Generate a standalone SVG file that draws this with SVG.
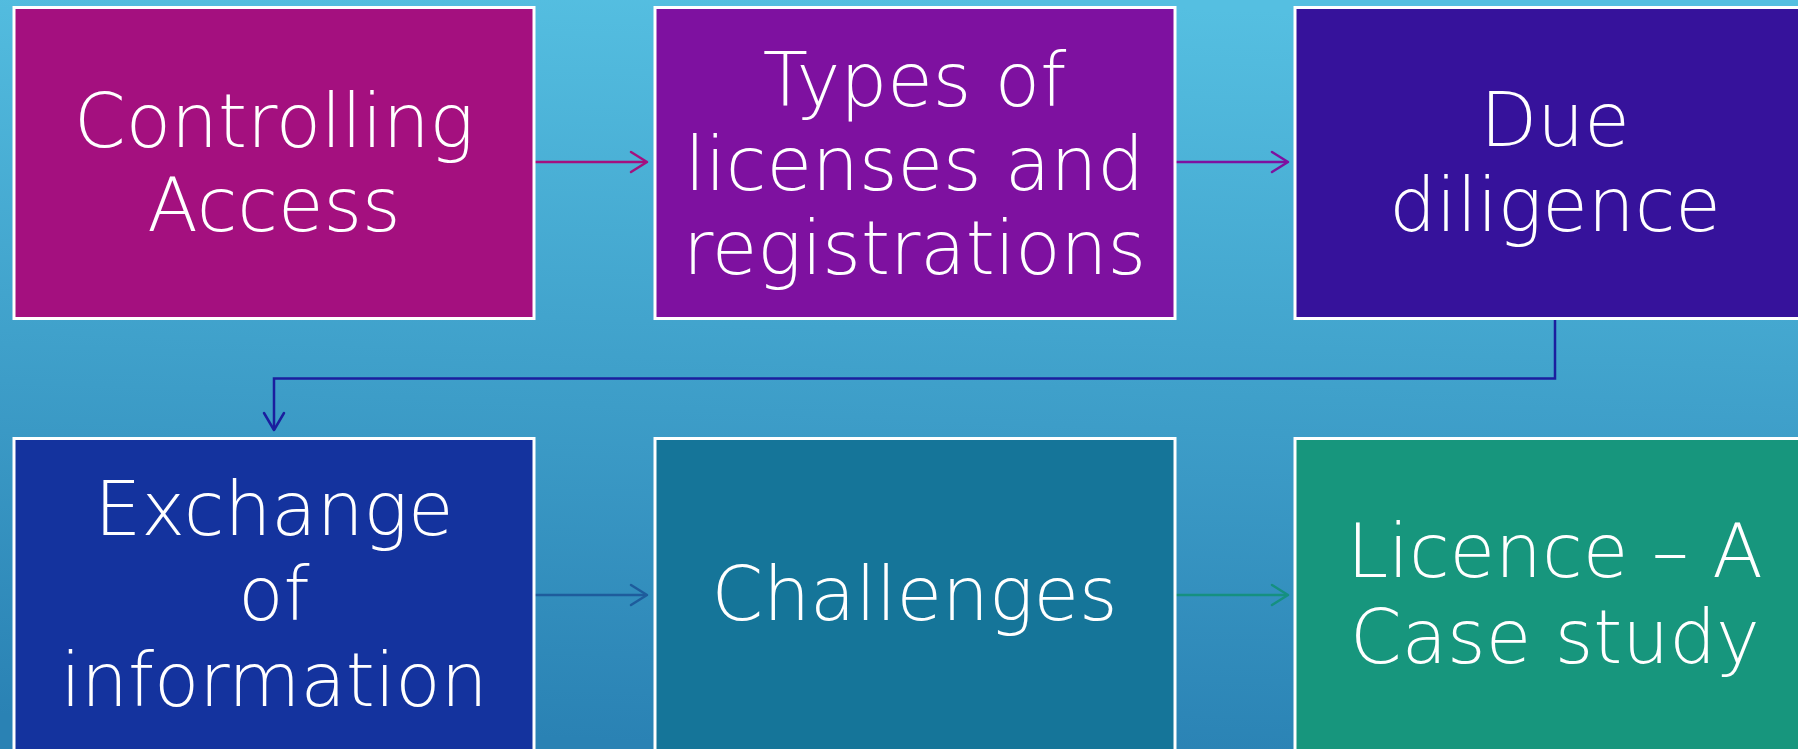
<svg xmlns="http://www.w3.org/2000/svg" width="1798" height="749" viewBox="0 0 1798 749">
<defs>
<linearGradient id="bg" x1="0.55" y1="0" x2="0.45" y2="1">
<stop offset="0" stop-color="#55BFE1"/>
<stop offset="1" stop-color="#2A82B4"/>
</linearGradient>
</defs>
<style>
.box{stroke:#FFFFFF;stroke-width:3}
.t{font-family:"DejaVu Sans","Liberation Sans",sans-serif;font-weight:200;font-size:74px;fill:#FFFFFF;text-anchor:middle}
.c{fill:none;stroke-width:2.5}
.h{fill:none;stroke-width:2.5;stroke-linecap:round;stroke-linejoin:round}
</style>
<rect x="0" y="0" width="1798" height="749" fill="url(#bg)"/>
<g id="connectors">
<line class="c" x1="535" y1="162" x2="646" y2="162" stroke="#A4107F"/>
<polyline class="h" points="631,152 647,162 631,172" stroke="#A4107F"/>
<line class="c" x1="1175" y1="162" x2="1287" y2="162" stroke="#7E11A0"/>
<polyline class="h" points="1272,152 1288,162 1272,172" stroke="#7E11A0"/>
<polyline class="c" points="1555,318 1555,378.5 274,378.5 274,430" stroke="#1B1E9E"/>
<polyline class="h" points="264,413 274,430 284,413" stroke="#1B1E9E"/>
<line class="c" x1="535" y1="595" x2="646" y2="595" stroke="#1E5C9C"/>
<polyline class="h" points="631,585 647,595 631,605" stroke="#1E5C9C"/>
<line class="c" x1="1175" y1="595" x2="1287" y2="595" stroke="#159080"/>
<polyline class="h" points="1272,585 1288,595 1272,605" stroke="#159080"/>
</g>
<g id="node1">
<rect class="box" x="14" y="7.5" width="520" height="311" fill="#A4107F"/>
<text class="t" x="274" y="147">Controlling</text>
<text class="t" x="274" y="231">Access</text>
</g>
<g id="node2">
<rect class="box" x="655" y="7.5" width="520" height="311" fill="#7E11A0"/>
<text class="t" x="914.5" y="106">Types of</text>
<text class="t" x="914.5" y="190">licenses and</text>
<text class="t" x="914.5" y="274">registrations</text>
</g>
<g id="node3">
<rect class="box" x="1295" y="7.5" width="520" height="311" fill="#36129B"/>
<text class="t" x="1555" y="146">Due</text>
<text class="t" x="1555" y="231">diligence</text>
</g>
<g id="node4">
<rect class="box" x="14" y="438.5" width="520" height="320" fill="#14339E"/>
<text class="t" x="274" y="535">Exchange</text>
<text class="t" x="274" y="620">of</text>
<text class="t" x="274" y="706">information</text>
</g>
<g id="node5">
<rect class="box" x="655" y="438.5" width="520" height="320" fill="#157599"/>
<text class="t" x="914.5" y="620">Challenges</text>
</g>
<g id="node6">
<rect class="box" x="1295" y="438.5" width="520" height="320" fill="#17967D"/>
<text class="t" x="1555" y="577">Licence – A</text>
<text class="t" x="1555" y="663">Case study</text>
</g>
</svg>
